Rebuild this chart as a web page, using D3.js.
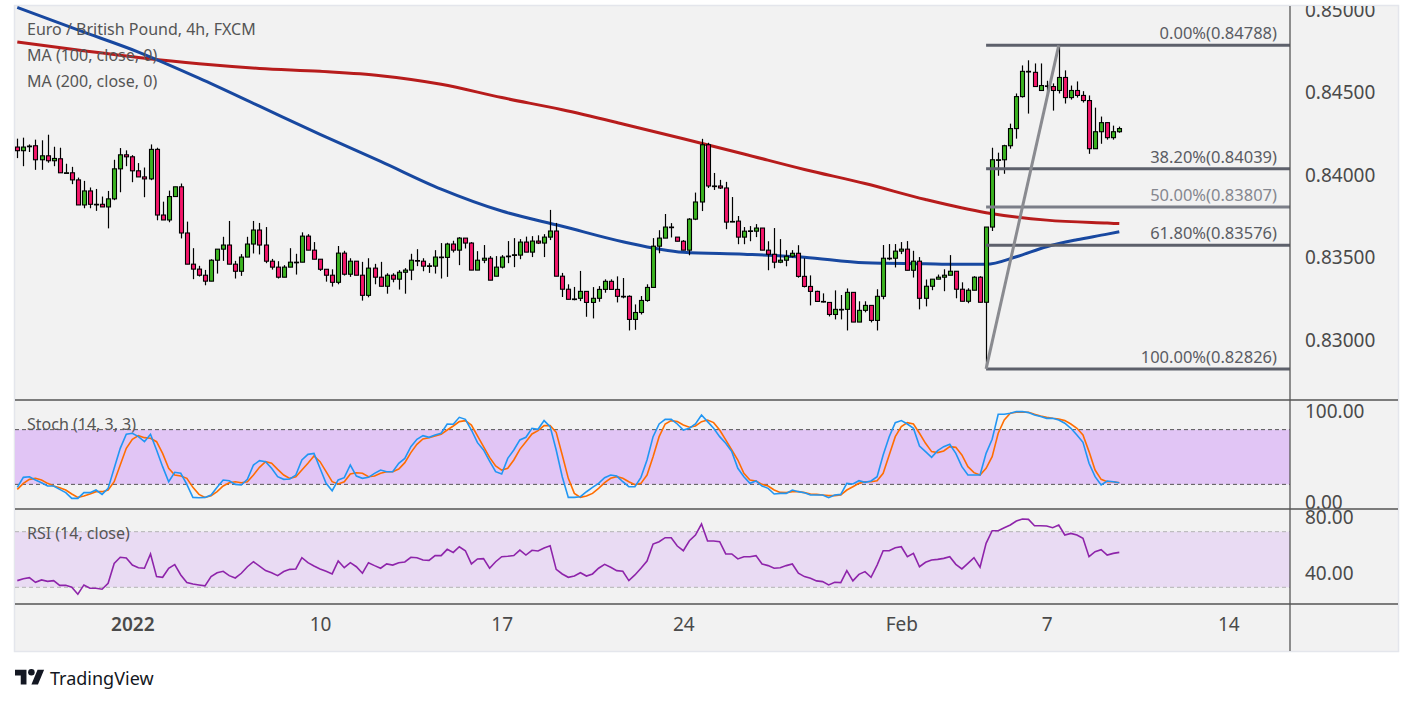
<!DOCTYPE html>
<html><head><meta charset="utf-8">
<script src="https://cdn.jsdelivr.net/npm/d3@7"></script>
<style>body{margin:0;background:#fff;} svg{display:block;}</style>
</head><body><svg id="c" width="1413" height="705"></svg>
<script>
// ---- DATA (EUR/GBP 4h, FXCM) ----
const openP=[0.84171,0.84149,0.84173,0.84179,0.84094,0.84118,0.84088,0.84100,0.84015,0.84015,
0.83972,0.83820,0.83905,0.83824,0.83824,0.83808,0.83857,0.84039,0.84124,0.84112,
0.84027,0.83990,0.83978,0.84157,0.83759,0.83729,0.83871,0.83930,0.83650,0.83461,
0.83431,0.83394,0.83358,0.83485,0.83552,0.83577,0.83461,0.83418,0.83504,0.83583,
0.83668,0.83577,0.83479,0.83443,0.83382,0.83443,0.83473,0.83473,0.83631,0.83546,
0.83491,0.83430,0.83394,0.83351,0.83528,0.83400,0.83479,0.83394,0.83272,0.83437,
0.83382,0.83327,0.83394,0.83370,0.83412,0.83425,0.83483,0.83479,0.83449,0.83449,
0.83504,0.83502,0.83583,0.83546,0.83619,0.83589,0.83425,0.83485,0.83497,0.83388,
0.83443,0.83506,0.83514,0.83516,0.83595,0.83534,0.83601,0.83589,0.83625,0.83662,
0.83388,0.83309,0.83250,0.83254,0.83296,0.83229,0.83254,0.83308,0.83357,0.83308,
0.83266,0.83266,0.83126,0.83168,0.83241,0.83320,0.83570,0.83619,0.83686,0.83625,
0.83600,0.83546,0.83734,0.83838,0.84185,0.83935,0.83935,0.83923,0.83720,0.83722,
0.83625,0.83663,0.83661,0.83680,0.83546,0.83521,0.83473,0.83485,0.83509,0.83527,
0.83387,0.83326,0.83296,0.83235,0.83229,0.83156,0.83187,0.83187,0.83290,0.83110,
0.83181,0.83211,0.83120,0.83266,0.83497,0.83497,0.83540,0.83552,0.83424,0.83479,
0.83254,0.83327,0.83370,0.83382,0.83394,0.83418,0.83309,0.83236,0.83303,0.83382,
0.83230,0.83686,0.84094,0.84094,0.84179,0.84283,0.84477,0.84630,0.84624,0.84514,
0.84542,0.84538,0.84514,0.84593,0.84471,0.84514,0.84484,0.84453,0.84161,0.84264,
0.84319,0.84228,0.84264];
const highP=[0.84222,0.84228,0.84187,0.84216,0.84212,0.84246,0.84173,0.84167,0.84070,0.84051,
0.83986,0.83966,0.83926,0.83917,0.83871,0.83905,0.84094,0.84165,0.84151,0.84122,
0.84074,0.84047,0.84187,0.84167,0.83840,0.83907,0.83930,0.83950,0.83719,0.83558,
0.83451,0.83426,0.83491,0.83552,0.83627,0.83723,0.83481,0.83522,0.83627,0.83723,
0.83711,0.83686,0.83493,0.83479,0.83455,0.83558,0.83524,0.83654,0.83643,0.83595,
0.83491,0.83430,0.83430,0.83571,0.83542,0.83497,0.83479,0.83475,0.83497,0.83463,
0.83475,0.83406,0.83406,0.83425,0.83437,0.83524,0.83552,0.83497,0.83467,0.83546,
0.83589,0.83591,0.83603,0.83625,0.83619,0.83595,0.83540,0.83577,0.83510,0.83510,
0.83516,0.83601,0.83619,0.83613,0.83628,0.83631,0.83636,0.83643,0.83790,0.83711,
0.83408,0.83339,0.83323,0.83420,0.83296,0.83322,0.83328,0.83369,0.83369,0.83387,
0.83377,0.83272,0.83217,0.83268,0.83339,0.83619,0.83667,0.83765,0.83710,0.83625,
0.83607,0.83740,0.83895,0.84221,0.84197,0.84014,0.83972,0.83960,0.83868,0.83753,
0.83686,0.83692,0.83704,0.83680,0.83600,0.83680,0.83613,0.83546,0.83546,0.83576,
0.83497,0.83393,0.83300,0.83284,0.83229,0.83302,0.83274,0.83314,0.83290,0.83236,
0.83236,0.83211,0.83309,0.83577,0.83583,0.83583,0.83595,0.83601,0.83542,0.83504,
0.83368,0.83370,0.83398,0.83430,0.83516,0.83418,0.83351,0.83315,0.83388,0.83388,
0.83686,0.84167,0.84137,0.84185,0.84313,0.84496,0.84666,0.84697,0.84678,0.84678,
0.84573,0.84557,0.84788,0.84636,0.84544,0.84569,0.84510,0.84484,0.84410,0.84356,
0.84319,0.84301,0.84295];
const lowP=[0.84104,0.84055,0.84141,0.84033,0.84033,0.84076,0.84055,0.84015,0.84015,0.83946,
0.83820,0.83800,0.83800,0.83784,0.83808,0.83678,0.83849,0.83897,0.84055,0.83958,
0.83990,0.83867,0.83970,0.83727,0.83729,0.83715,0.83871,0.83617,0.83461,0.83370,
0.83386,0.83333,0.83358,0.83404,0.83481,0.83461,0.83374,0.83390,0.83504,0.83526,
0.83520,0.83467,0.83428,0.83374,0.83382,0.83443,0.83398,0.83473,0.83546,0.83491,
0.83420,0.83355,0.83325,0.83339,0.83392,0.83384,0.83394,0.83240,0.83260,0.83339,
0.83327,0.83282,0.83351,0.83307,0.83282,0.83364,0.83449,0.83418,0.83408,0.83404,
0.83374,0.83384,0.83532,0.83455,0.83556,0.83425,0.83425,0.83467,0.83364,0.83388,
0.83435,0.83467,0.83443,0.83491,0.83534,0.83504,0.83583,0.83504,0.83607,0.83388,
0.83262,0.83248,0.83242,0.83237,0.83142,0.83132,0.83233,0.83288,0.83308,0.83229,
0.83254,0.83059,0.83063,0.83156,0.83233,0.83320,0.83527,0.83619,0.83623,0.83600,
0.83546,0.83515,0.83728,0.83783,0.83923,0.83911,0.83917,0.83673,0.83716,0.83582,
0.83582,0.83600,0.83625,0.83546,0.83424,0.83436,0.83467,0.83448,0.83501,0.83379,
0.83320,0.83211,0.83235,0.83229,0.83144,0.83126,0.83126,0.83059,0.83110,0.83110,
0.83169,0.83108,0.83059,0.83248,0.83485,0.83441,0.83522,0.83424,0.83380,0.83187,
0.83205,0.83303,0.83370,0.83297,0.83394,0.83254,0.83236,0.83224,0.83303,0.83230,
0.82826,0.83662,0.83997,0.84009,0.84161,0.84222,0.84471,0.84374,0.84538,0.84514,
0.84496,0.84392,0.84496,0.84435,0.84459,0.84471,0.84441,0.84130,0.84161,0.84191,
0.84216,0.84216,0.84258];
const closeP=[0.84149,0.84171,0.84177,0.84094,0.84118,0.84088,0.84102,0.84015,0.84015,0.83972,
0.83820,0.83905,0.83824,0.83824,0.83808,0.83857,0.84039,0.84124,0.84112,0.84027,
0.83990,0.83978,0.84157,0.83759,0.83729,0.83871,0.83930,0.83650,0.83461,0.83431,
0.83394,0.83358,0.83485,0.83552,0.83577,0.83461,0.83418,0.83504,0.83583,0.83668,
0.83577,0.83479,0.83443,0.83382,0.83443,0.83473,0.83473,0.83631,0.83546,0.83491,
0.83430,0.83394,0.83351,0.83528,0.83400,0.83479,0.83394,0.83272,0.83437,0.83382,
0.83327,0.83394,0.83370,0.83412,0.83425,0.83485,0.83481,0.83449,0.83451,0.83504,
0.83502,0.83583,0.83546,0.83619,0.83589,0.83425,0.83485,0.83497,0.83364,0.83443,
0.83504,0.83510,0.83518,0.83595,0.83534,0.83601,0.83589,0.83625,0.83662,0.83388,
0.83309,0.83248,0.83250,0.83296,0.83229,0.83254,0.83308,0.83357,0.83308,0.83266,
0.83266,0.83126,0.83168,0.83241,0.83320,0.83570,0.83619,0.83686,0.83686,0.83600,
0.83546,0.83734,0.83838,0.84185,0.83935,0.83935,0.83923,0.83716,0.83720,0.83625,
0.83661,0.83663,0.83680,0.83546,0.83521,0.83473,0.83485,0.83509,0.83527,0.83387,
0.83326,0.83296,0.83235,0.83235,0.83156,0.83187,0.83187,0.83290,0.83110,0.83181,
0.83211,0.83120,0.83266,0.83497,0.83497,0.83540,0.83552,0.83424,0.83479,0.83254,
0.83327,0.83370,0.83382,0.83394,0.83418,0.83309,0.83236,0.83303,0.83382,0.83230,
0.83686,0.84094,0.84094,0.84179,0.84283,0.84477,0.84630,0.84628,0.84538,0.84544,
0.84542,0.84514,0.84593,0.84471,0.84514,0.84484,0.84453,0.84161,0.84264,0.84319,
0.84228,0.84264,0.84283];

const ma100Idx=[0,10,20,30,40,50,60,70,80,90,100,110,120,130,140,150,155,160,165,170,175,180,182];
const ma100=[0.85018,0.84881,0.84747,0.84589,0.84419,0.84248,0.84084,0.83916,0.83783,0.83691,0.83597,0.83533,0.83521,0.83503,0.83469,0.83463,0.83460,0.83460,0.83506,0.83567,0.83609,0.83643,0.83658];
const ma200Idx=[0,10,20,30,40,50,60,70,80,90,100,110,120,130,140,150,160,170,180,182];
const ma200=[0.84808,0.84759,0.84714,0.84676,0.84648,0.84630,0.84604,0.84552,0.84471,0.84397,0.84311,0.84221,0.84129,0.84035,0.83950,0.83853,0.83773,0.83728,0.83710,0.83707];

const stochK=[16.7,27.7,28.4,24.8,21.8,18.2,18.2,14.5,10.9,4.6,
4.6,10.9,10.9,13.8,9.0,15.6,37.6,59.5,74.9,76.0,
72.3,66.8,74.9,57.7,39.4,22.9,33.2,32.1,20.0,5.7,
5.4,5.7,8.3,16.7,24.8,24.0,20.0,19.3,25.5,41.2,
46.0,44.9,37.6,28.4,25.5,25.9,30.2,46.7,52.9,54.0,
37.6,21.1,13.0,24.8,27.3,41.2,29.1,26.6,27.7,32.1,
35.7,33.9,33.9,43.1,48.5,61.3,69.4,73.4,71.6,74.2,
76.0,86.2,85.9,93.5,91.3,79.6,65.7,57.7,45.6,33.9,
31.3,48.5,57.7,68.7,71.6,81.5,80.4,89.9,83.3,57.7,
28.4,5.7,5.7,6.5,11.9,16.7,21.1,27.3,30.2,29.1,
22.9,17.4,17.4,27.7,46.7,72.3,86.2,91.3,91.3,86.2,
79.6,81.5,86.2,96.1,88.8,81.5,72.3,65.0,55.9,37.6,
28.4,21.1,23.7,18.2,15.6,9.4,10.1,10.1,13.8,12.0,
10.9,8.3,8.3,8.3,5.4,8.3,9.0,21.1,20.4,24.0,
22.2,23.7,28.4,52.2,72.3,87.7,89.9,86.2,81.5,62.1,
55.9,49.6,57.0,61.3,63.9,54.0,39.4,30.2,30.2,30.2,
54.0,69.4,96.8,96.8,97.9,99.8,99.8,98.7,96.1,94.3,
92.4,92.4,90.6,87.0,81.5,74.2,66.1,43.1,28.4,19.3,
23.7,22.9,21.8];
const stochD=[14.5,21.1,25.5,26.6,24.8,21.1,18.2,16.3,13.8,9.4,
5.7,7.2,9.4,12.0,12.0,13.8,22.9,41.2,59.5,69.4,
73.4,71.2,70.5,66.8,54.0,37.6,30.2,29.1,26.6,16.7,
9.0,5.7,7.6,12.0,18.2,21.8,22.9,21.8,22.9,30.2,
38.7,44.9,43.1,36.5,30.2,26.6,28.4,35.7,43.1,51.1,
44.9,33.9,22.9,20.4,22.9,31.3,32.8,32.1,28.4,29.1,
32.1,33.9,33.9,36.8,43.8,54.8,63.9,69.8,71.2,73.1,
74.9,79.6,84.0,88.8,89.9,85.1,73.1,61.3,49.6,40.1,
35.7,37.6,46.7,58.4,66.8,75.3,78.9,84.4,84.4,77.1,
52.2,26.6,10.1,5.7,7.2,10.1,15.6,21.8,26.6,28.4,
26.6,22.9,19.6,21.1,30.2,50.4,72.3,86.2,89.9,88.8,
85.1,82.6,84.0,88.8,90.6,87.7,79.6,68.7,57.7,46.7,
32.1,24.8,23.7,20.0,18.2,13.8,11.2,10.9,12.0,12.0,
10.9,9.4,9.0,8.3,7.6,7.6,8.3,13.8,17.4,21.1,
22.9,22.9,24.0,32.1,52.2,72.3,83.3,87.7,86.2,76.0,
65.0,55.9,54.8,56.6,61.3,60.6,52.2,39.4,32.8,30.2,
37.6,50.4,76.0,90.6,97.9,99.0,99.4,99.0,96.8,95.0,
93.5,92.4,91.7,89.9,86.2,81.5,74.2,55.9,35.7,25.5,
22.9,22.9,21.8];
const rsi=[34.8,36.2,36.9,33.6,35.3,34.3,34.8,31.4,31.4,30.0,
25.0,31.7,29.3,29.3,28.6,32.9,47.2,51.6,51.1,46.0,
44.1,43.7,54.0,37.7,37.2,43.7,46.3,38.9,33.4,32.4,
31.7,31.0,37.7,40.5,41.5,38.4,36.7,40.1,44.8,48.4,
45.3,42.0,40.5,38.4,41.3,42.9,43.2,51.3,47.7,45.3,
43.2,41.5,39.6,48.9,44.1,47.7,44.8,40.1,47.7,45.6,
43.7,46.8,46.0,47.7,48.2,51.6,51.3,49.6,49.4,52.8,
52.8,57.3,55.1,59.2,56.3,46.8,50.4,50.6,43.7,48.4,
52.0,52.3,52.8,56.8,53.2,56.6,56.1,58.3,59.9,42.9,
39.6,37.2,38.1,40.5,38.1,39.6,43.7,46.5,44.4,42.0,
41.5,34.8,38.9,43.7,48.9,61.1,62.8,65.7,65.7,59.7,
56.3,63.5,67.6,75.5,63.3,63.3,62.8,54.0,54.0,50.4,
52.0,52.0,52.8,46.8,45.6,43.7,44.1,45.6,46.8,40.1,
37.7,36.5,34.6,34.1,31.7,33.6,33.4,42.0,34.6,39.3,
41.3,37.2,46.0,56.3,56.3,58.5,59.2,52.0,54.4,44.8,
48.0,49.6,50.1,50.8,52.0,46.5,43.2,47.2,51.3,44.4,
61.6,70.7,70.7,72.9,74.8,77.7,79.1,78.9,74.3,74.3,
74.1,72.9,74.8,67.6,68.8,67.6,65.2,52.0,55.6,57.1,
53.2,54.4,55.1];

const fibHighIdx=172, fibLowIdx=160;
const fibPrices=[0.84788,0.84039,0.83807,0.83576,0.82826];
const fibLabels=["0.00%(0.84788)","38.20%(0.84039)","50.00%(0.83807)","61.80%(0.83576)","100.00%(0.82826)"];
const priceTicks=[0.85,0.845,0.84,0.835,0.83];
const stochTicks=[100,0];
const rsiTicks=[80,40];
const dateTickIdx=[19,50,80,110,146,170,200];
const dateTickLabels=["2022","10","17","24","Feb","7","14"];

// ---- LAYOUT ----
const svg=d3.select("#c");
const FONT="'Noto Sans', 'Liberation Sans', sans-serif";
const L=15, R=1290, RE=1398, T=6, B=651;
const mainB=400, stochB=509, rsiB=604;
const txt="#4a4a4a";

svg.append("rect").attr("x",0).attr("y",0).attr("width",1413).attr("height",705).attr("fill","#fff");
svg.append("rect").attr("x",L-0.5).attr("y",T-0.5).attr("width",RE-L+1).attr("height",B-T+1)
  .attr("fill","#f2f2f2").attr("stroke","#e4e6ec").attr("stroke-width",1.5);

const x=d3.scaleLinear().domain([0,182]).range([17.3,1119.3]);
const y=d3.scaleLinear().domain([0.82826,0.84788]).range([368.9,45.3]);
const ys=d3.scaleLinear().domain([0,100]).range([502.6,411.4]);
const yr=d3.scaleLinear().domain([30,70]).range([587.3,531.7]);

const defs=svg.append("defs");
defs.append("clipPath").attr("id","cm").append("rect").attr("x",L).attr("y",T).attr("width",R-L).attr("height",mainB-T);
defs.append("clipPath").attr("id","cs").append("rect").attr("x",L).attr("y",mainB).attr("width",R-L).attr("height",stochB-mainB);
defs.append("clipPath").attr("id","cr").append("rect").attr("x",L).attr("y",stochB).attr("width",R-L).attr("height",rsiB-stochB);
defs.append("clipPath").attr("id","ca").append("rect").attr("x",R).attr("y",T).attr("width",RE-R).attr("height",mainB-T);

// ---- MAIN PANE ----
const gm=svg.append("g").attr("clip-path","url(#cm)");
const idx=d3.range(openP.length);

const lineMA=d3.line().x(d=>x(d[0])).y(d=>y(d[1])).curve(d3.curveMonotoneX);
gm.append("path").datum(ma200Idx.map((d,i)=>[d,ma200[i]])).attr("d",lineMA)
  .attr("fill","none").attr("stroke","#b71c1c").attr("stroke-width",3);
gm.append("path").datum(ma100Idx.map((d,i)=>[d,ma100[i]])).attr("d",lineMA)
  .attr("fill","none").attr("stroke","#1848a0").attr("stroke-width",3);

// wicks
gm.append("g").selectAll("line").data(idx).join("line")
  .attr("x1",i=>Math.round(x(i))+0.5).attr("x2",i=>Math.round(x(i))+0.5)
  .attr("y1",i=>y(highP[i])).attr("y2",i=>y(lowP[i]))
  .attr("stroke","#000").attr("stroke-width",1.2);
// bodies
gm.append("g").selectAll("rect").data(idx).join("rect")
  .attr("x",i=>Math.round(x(i))+0.5-2)
  .attr("width",4)
  .attr("y",i=>y(Math.max(openP[i],closeP[i])))
  .attr("height",i=>Math.max(0.6,Math.abs(y(openP[i])-y(closeP[i]))))
  .attr("fill",i=>closeP[i]>=openP[i]?"#3cb521":"#f5176b")
  .attr("stroke","#000").attr("stroke-width",1.1);

// fib
const fx1=x(fibLowIdx);
fibPrices.forEach((p,k)=>{
  gm.append("line").attr("x1",fx1).attr("x2",R).attr("y1",y(p)).attr("y2",y(p))
    .attr("stroke",k===2?"#7b7e88":"#5d606b").attr("stroke-width",3);
  gm.append("text").attr("x",1277).attr("y",y(p)-6).attr("text-anchor","end")
    .attr("font-family",FONT).attr("font-size",16.5).attr("fill",k===2?"#85878f":"#5a5c63")
    .text(fibLabels[k]);
});
gm.append("line").attr("x1",x(fibLowIdx)).attr("y1",y(fibPrices[4]))
  .attr("x2",x(fibHighIdx)).attr("y2",y(fibPrices[0]))
  .attr("stroke","#8a8b90").attr("stroke-width",3);

// legend
const lg=[["Euro / British Pound, 4h, FXCM",29],["MA (100, close, 0)",55],["MA (200, close, 0)",81]];
lg.forEach(d=>svg.append("text").attr("x",27).attr("y",d[1]).attr("dy","0.35em")
  .attr("font-family",FONT).attr("font-size",16).attr("fill","#555").text(d[0]));

// ---- STOCH PANE ----
const gs=svg.append("g").attr("clip-path","url(#cs)");
gs.append("rect").attr("x",L).attr("width",R-L).attr("y",ys(80)).attr("height",ys(20)-ys(80)).attr("fill","#e1c5f5");
[80,20].forEach(v=>gs.append("line").attr("x1",L).attr("x2",R).attr("y1",ys(v)).attr("y2",ys(v))
  .attr("stroke","#555").attr("stroke-width",1).attr("stroke-dasharray","4,3"));
const ls=d3.line().x((d,i)=>x(i)).y(d=>ys(d));
gs.append("path").datum(stochD).attr("d",ls).attr("fill","none").attr("stroke","#ff6d00").attr("stroke-width",1.6);
gs.append("path").datum(stochK).attr("d",ls).attr("fill","none").attr("stroke","#2196f3").attr("stroke-width",1.6);
svg.append("text").attr("x",27).attr("y",424).attr("dy","0.35em").attr("font-family",FONT)
  .attr("font-size",16).attr("fill","#555").text("Stoch (14, 3, 3)");

// ---- RSI PANE ----
const gr=svg.append("g").attr("clip-path","url(#cr)");
gr.append("rect").attr("x",L).attr("width",R-L).attr("y",yr(70)).attr("height",yr(30)-yr(70)).attr("fill","#e9dbf3");
[70,30].forEach(v=>gr.append("line").attr("x1",L).attr("x2",R).attr("y1",yr(v)).attr("y2",yr(v))
  .attr("stroke","#b3b3b3").attr("stroke-width",1).attr("stroke-dasharray","4,3"));
gr.append("path").datum(rsi).attr("d",d3.line().x((d,i)=>x(i)).y(d=>yr(d)))
  .attr("fill","none").attr("stroke","#8e24aa").attr("stroke-width",1.6);
svg.append("text").attr("x",27).attr("y",533).attr("dy","0.35em").attr("font-family",FONT)
  .attr("font-size",16).attr("fill","#555").text("RSI (14, close)");

// ---- AXES ----
function styleAxis(g){
  g.select(".domain").remove();
  g.selectAll(".tick line").remove();
  g.selectAll("text").attr("font-family",FONT).attr("font-size",19).attr("fill",txt);
}
svg.append("g").attr("clip-path","url(#ca)").append("g").attr("transform",`translate(${R},0)`)
  .call(d3.axisRight(y).tickValues(priceTicks).tickFormat(d3.format(".5f")).tickSize(0).tickPadding(15))
  .call(styleAxis);
svg.append("g").attr("transform",`translate(${R},0)`)
  .call(d3.axisRight(ys).tickValues(stochTicks).tickFormat(d3.format(".2f")).tickSize(0).tickPadding(15))
  .call(styleAxis);
svg.append("g").attr("transform",`translate(${R},0)`)
  .call(d3.axisRight(yr).tickValues(rsiTicks).tickFormat(d3.format(".2f")).tickSize(0).tickPadding(15))
  .call(styleAxis);

const gx=svg.append("g").attr("transform",`translate(0,${rsiB})`)
  .call(d3.axisBottom(x).tickValues(dateTickIdx).tickFormat((d,i)=>dateTickLabels[i]).tickSize(0).tickPadding(14))
  .call(styleAxis);
gx.selectAll("text").attr("font-weight",(d,i)=>i===0?600:400);

// separators
const sep="#555";
svg.append("line").attr("x1",R).attr("x2",R).attr("y1",T).attr("y2",B).attr("stroke",sep).attr("stroke-width",1.3);
[mainB,stochB,rsiB].forEach(v=>svg.append("line").attr("x1",L).attr("x2",RE).attr("y1",v).attr("y2",v)
  .attr("stroke",sep).attr("stroke-width",1.3));

// ---- TradingView logo ----
const lgG=svg.append("g").attr("transform","translate(15,666.5) scale(0.82)").attr("fill","#131722");
lgG.append("path").attr("d","M14 22H7V11H0V4h14v18zM28 22h-8l7.5-18h8L28 22z");
lgG.append("circle").attr("cx",20).attr("cy",7).attr("r",4);
svg.append("text").attr("x",50).attr("y",679).attr("dy","0.35em").attr("font-family",FONT)
  .attr("font-size",18).attr("fill","#131722").text("TradingView");
</script></body></html>
